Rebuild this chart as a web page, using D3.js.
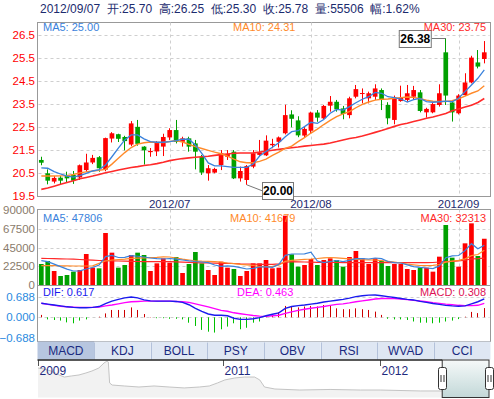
<!DOCTYPE html>
<html><head><meta charset="utf-8">
<script src="https://cdn.jsdelivr.net/npm/d3@7/dist/d3.min.js"></script>
<style>body{margin:0;background:#fff;}svg{display:block;font-family:"Liberation Sans",Arial,sans-serif;}</style>
</head><body><svg id="chart" width="494" height="399"></svg>
<script>
// ---------------- DATA ----------------
const titleText = "2012/09/07\u00a0\u00a0开:25.70\u00a0\u00a0高:26.25\u00a0\u00a0低:25.30\u00a0\u00a0收:25.78\u00a0\u00a0量:55506\u00a0\u00a0幅:1.62%";
const opens = [21.08,20.50,20.14,20.31,20.43,20.43,20.32,20.64,20.97,21.20,
  20.66,22.01,22.20,22.08,21.75,22.52,21.66,21.42,21.45,21.66,
  22.06,22.38,21.87,22.02,21.80,21.22,20.50,20.53,20.86,21.22,
  21.44,20.28,20.21,20.79,21.30,21.28,21.72,21.87,22.24,23.06,
  22.80,22.14,22.35,23.14,22.89,23.44,23.61,23.32,23.03,23.83,
  23.95,23.76,23.83,24.12,23.47,22.82,23.64,23.69,23.83,24.02,
  23.15,23.15,23.47,25.76,23.58,23.11,23.90,24.45,25.32,25.47];
const highs = [21.22,20.67,20.38,20.38,20.57,20.60,20.88,21.35,21.30,21.25,
  22.05,22.29,22.22,22.13,22.77,22.82,21.68,21.60,21.90,22.22,
  22.46,22.82,22.09,22.09,21.95,21.30,20.86,20.74,21.51,21.51,
  21.51,20.79,20.86,21.51,21.95,22.15,22.00,22.10,23.48,23.24,
  22.98,22.53,23.18,23.25,23.47,23.86,23.69,23.43,23.83,24.34,
  24.19,24.05,24.37,24.19,23.59,23.88,24.31,24.34,24.30,24.12,
  23.35,23.59,24.37,26.38,23.62,23.94,24.85,25.61,25.86,26.25];
const lows = [20.85,20.02,20.06,20.02,20.09,20.04,20.21,20.57,20.90,20.57,
  20.59,21.84,21.86,21.50,21.68,21.70,20.88,21.22,21.25,21.25,
  21.95,21.80,21.66,21.44,20.67,20.43,20.18,20.50,20.64,21.08,
  20.25,20.14,20.00,20.72,21.22,21.25,21.59,21.62,22.19,22.50,
  22.07,22.06,22.24,22.74,22.85,23.18,23.18,22.85,22.89,23.76,
  23.54,23.54,23.69,23.25,22.63,22.63,23.61,23.61,23.69,23.15,
  22.92,23.11,23.40,23.47,22.75,23.06,23.86,24.41,25.06,25.28];
const closes = [20.96,20.18,20.30,20.18,20.28,20.18,20.85,20.97,21.17,20.72,
  22.03,22.24,22.00,21.90,22.67,21.78,21.50,21.47,21.82,22.08,
  22.38,21.87,22.02,21.66,21.44,20.53,20.72,20.69,21.37,21.34,
  20.28,20.60,20.82,21.37,21.40,21.92,21.78,22.06,23.03,22.87,
  22.15,22.43,23.14,22.92,23.43,23.61,23.28,23.08,23.76,24.16,
  23.99,23.98,24.19,23.69,22.89,23.79,23.79,23.98,24.12,23.21,
  23.30,23.51,23.98,23.88,23.15,23.88,24.45,25.53,25.14,25.76];
const ma5 = [20.74,20.72,20.57,20.47,20.38,20.33,20.40,20.50,20.60,20.66,
  20.86,21.22,21.59,21.95,22.17,22.17,22.00,21.88,21.85,21.85,
  21.88,21.92,21.98,21.98,21.73,21.37,20.95,20.82,20.82,20.79,
  20.76,20.76,20.76,20.90,21.25,21.45,21.63,21.83,22.09,22.31,
  22.35,22.53,22.72,22.67,22.84,23.11,23.28,23.25,23.40,23.57,
  23.72,23.83,24.02,23.98,23.83,23.79,23.73,23.60,23.70,23.76,
  23.62,23.59,23.61,23.64,23.61,23.76,24.05,24.34,24.63,25.00];
const ma10 = [20.38,20.38,20.38,20.39,20.40,20.45,20.52,20.56,20.60,20.63,
  20.67,20.90,21.15,21.40,21.62,21.77,21.83,21.86,21.84,21.84,
  21.88,21.92,21.86,21.76,21.66,21.58,21.50,21.42,21.35,21.25,
  21.12,21.00,20.96,20.96,21.02,21.12,21.28,21.42,21.58,21.68,
  21.88,22.05,22.25,22.42,22.62,22.80,22.96,23.08,23.18,23.35,
  23.50,23.60,23.68,23.72,23.73,23.76,23.79,23.82,23.80,23.74,
  23.68,23.63,23.62,23.62,23.66,23.74,23.86,23.98,24.08,24.31];
const ma30 = [19.80,19.86,19.94,20.02,20.10,20.18,20.26,20.32,20.38,20.45,
  20.52,20.58,20.64,20.70,20.75,20.79,20.84,20.87,20.92,20.98,
  21.05,21.10,21.14,21.17,21.20,21.22,21.24,21.28,21.31,21.34,
  21.37,21.38,21.38,21.39,21.42,21.46,21.50,21.54,21.58,21.61,
  21.64,21.68,21.71,21.74,21.77,21.82,21.88,21.95,22.01,22.06,
  22.12,22.20,22.28,22.36,22.45,22.54,22.62,22.68,22.75,22.82,
  22.89,22.95,23.02,23.10,23.22,23.30,23.38,23.46,23.58,23.75];
const volumes = [25200,28800,16800,10800,12000,16000,18000,37200,20800,20000,
  62400,38800,20800,24000,36000,38800,36000,16800,26000,32000,
  26800,33600,14400,25200,39600,26000,18000,12000,28000,20800,
  19200,10800,16800,26000,26000,30000,20000,20800,83200,36800,
  22000,24000,31200,24000,30000,32000,30000,22000,33600,40800,
  32000,25200,32000,28800,22800,25200,25200,19200,18000,20800,
  20800,16000,34000,72000,32800,22000,50000,74000,34800,55506];
const volMa5 = [29200,28000,25000,22000,19000,16800,17000,19200,21000,24000,
  34000,35500,33000,33200,35200,34500,33600,32400,31600,31200,
  31800,31000,30000,29000,28200,27600,26800,24000,22400,23000,
  22400,20800,19200,20000,21600,21800,21200,24800,35600,37200,
  37200,37400,39400,28800,26800,28200,29400,28000,29600,31600,
  31800,31200,32400,31600,28200,26800,26400,24200,22000,21200,
  20400,19600,22800,32800,35000,35400,41200,49600,43400,47806];
const volMa10 = [23200,23200,23200,23000,23000,22800,22800,22800,23000,26000,
  28800,30000,30500,31000,32000,32200,32500,32800,33200,33800,
  33600,32400,31000,30000,29000,28600,28400,28000,27400,26400,
  25600,24800,24200,23400,22200,22000,22400,23800,28400,29600,
  30200,30800,31200,31800,32600,33000,32600,32000,31400,30800,
  30400,30200,30000,29200,28400,27600,26400,25000,24200,23400,
  23200,23600,24600,27400,28600,29600,31400,35200,36600,41679];
const volMa30 = [32000,31800,31600,31400,31200,31000,30600,30200,29800,29400,
  29200,29000,28800,28600,28400,28200,28000,28000,28000,28000,
  28000,27800,27500,27200,26800,26600,26400,26200,26000,26000,
  25800,25400,25200,25000,24800,24800,24800,25400,27200,28000,
  27800,27600,27400,27200,27200,27000,27000,26900,26800,26800,
  26800,26800,26800,26800,26800,26800,26800,26800,26800,26800,
  26800,27000,27600,28000,28400,28800,29800,31200,31600,32313];
const dif = [0.47,0.44,0.41,0.38,0.35,0.33,0.32,0.32,0.33,0.36,
  0.46,0.54,0.60,0.65,0.68,0.65,0.58,0.55,0.54,0.54,
  0.54,0.53,0.50,0.42,0.30,0.20,0.11,0.07,0.07,0.05,
  -0.03,-0.07,-0.07,-0.05,-0.01,0.05,0.10,0.15,0.30,0.36,
  0.39,0.41,0.44,0.47,0.51,0.54,0.57,0.60,0.64,0.69,
  0.72,0.74,0.745,0.72,0.69,0.66,0.63,0.60,0.58,0.53,
  0.50,0.46,0.43,0.40,0.38,0.37,0.38,0.45,0.52,0.617];
const dea = [0.47,0.43,0.40,0.37,0.35,0.34,0.33,0.33,0.33,0.34,
  0.38,0.41,0.45,0.49,0.52,0.53,0.54,0.54,0.54,0.54,
  0.54,0.53,0.52,0.50,0.45,0.40,0.35,0.29,0.23,0.20,
  0.15,0.12,0.09,0.06,0.04,0.03,0.05,0.07,0.13,0.18,
  0.23,0.27,0.30,0.33,0.36,0.40,0.43,0.45,0.48,0.52,
  0.55,0.58,0.61,0.63,0.63,0.625,0.61,0.59,0.565,0.545,
  0.52,0.49,0.465,0.44,0.42,0.40,0.39,0.39,0.40,0.463];
const macdHist = [0.08,-0.07,-0.09,-0.11,-0.17,-0.20,-0.11,-0.07,0.0,0.02,
  0.13,0.245,0.245,0.245,0.33,0.245,0.11,0.01,-0.03,-0.03,
  -0.05,-0.05,-0.07,-0.18,-0.29,-0.42,-0.48,-0.51,-0.40,-0.31,
  -0.20,-0.40,-0.35,-0.18,-0.14,0.06,0.10,0.17,0.38,0.36,
  0.33,0.36,0.38,0.36,0.41,0.38,0.30,0.27,0.27,0.30,
  0.27,0.245,0.19,0.08,-0.05,-0.07,-0.07,-0.09,-0.14,-0.18,
  -0.18,-0.20,-0.18,-0.14,-0.11,-0.06,0.02,0.18,0.14,0.308];
const priceTicks = [19.5,20.5,21.5,22.5,23.5,24.5,25.5,26.5];
const volTicks = [0,22500,45000,67500,90000];
const macdTicks = [-0.688,0,0.688];
const monthTickIdx = [20,42,65];
const monthTickLabels = ["2012/07","2012/08","2012/09"];
const tabs = ["MACD","KDJ","BOLL","PSY","OBV","RSI","WVAD","CCI"];
const navDates = ["2009-10-30","2009-11-13","2009-11-29","2009-12-18","2009-12-30","2010-01-15","2010-02-02","2010-02-18","2010-03-04","2010-03-20",
  "2010-04-01","2010-04-08","2010-04-11","2010-04-14","2010-04-20","2010-05-18","2010-06-21","2010-07-26","2010-08-30","2010-10-04",
  "2010-11-08","2010-12-01","2010-12-20","2011-01-06","2011-01-29","2011-02-21","2011-03-16","2011-03-28","2011-04-08","2011-05-02",
  "2011-06-29","2011-09-07","2011-11-16","2012-01-01","2012-02-16","2012-04-03","2012-05-20","2012-06-24","2012-07-29","2012-09-07"];
const navLevel = [43.5,42.4,40.3,36.1,33.9,35.0,36.1,38.2,40.3,43.5,
  48.8,50.9,49.9,27.6,25.4,24.4,23.3,24.4,23.3,22.3,
  23.3,24.4,27.6,30.8,32.9,33.9,33.9,30.8,23.3,21.2,
  20.1,20.7,20.1,20.1,19.6,19.1,19.1,20.1,20.1,22.3];
const navTickDates = ["2009-10-30","2011-01-01","2012-01-01"];
const navTickLabels = ["2009","2011","2012"];
const navWindow = ["2012-06-01","2012-09-07"];

// ---------------- DRAW ----------------
const svg = d3.select("#chart");
const N = closes.length;
const L = 37.5, R = 490.5;
const P = {t:22.5,b:196.5}, V = {t:209.5,b:285.5}, M = {t:285.5,b:341.5}, T = {t:341.5,b:359.5}, NV = {t:360,b:397.5};
const UP = "#ff0000", DOWN = "#00a000";
const C5 = "#3a82dc", C10 = "#ff8a2a", C30 = "#ff2a2a";

const x = d3.scaleBand().domain(d3.range(N)).range([38.1,487.5]).paddingInner(0.27).paddingOuter(0.135);
const cx = i => x(i) + x.bandwidth()/2;
const yP = d3.scaleLinear().domain([19.5,26.5]).range([196.3,35.3]);
const yV = d3.scaleLinear().domain([0,90000]).range([285,210]);
const yM = d3.scaleLinear().domain([-0.688,0.688]).range([337.9,296.7]);
const crisp = v => Math.round(v) + 0.5;

// title
svg.append("text").attr("x",40).attr("y",8.7).attr("dy","0.35em")
  .attr("font-size",12).attr("fill","#1b2b6e").text(titleText);

// frames
[[P.t,P.b],[V.t,V.b],[M.t,M.b]].forEach(([t,b]) => {
  svg.append("rect").attr("x",L).attr("y",t).attr("width",R-L).attr("height",b-t)
    .attr("fill","none").attr("stroke","#999");
});

// grid lines
const grid = svg.append("g").attr("stroke","#cfcfcf").attr("stroke-dasharray","3,3");
priceTicks.filter(t => t > 19.5).forEach(t => grid.append("line").attr("x1",L+1).attr("x2",R-1)
  .attr("y1",crisp(yP(t))).attr("y2",crisp(yP(t))));
volTicks.filter(t => t > 0 && t < 90000).forEach(t => grid.append("line").attr("x1",L+1).attr("x2",R-1)
  .attr("y1",crisp(yV(t))).attr("y2",crisp(yV(t))));
[0.688,0].forEach(t => grid.append("line").attr("x1",L+1).attr("x2",R-1)
  .attr("y1",crisp(yM(t))).attr("y2",crisp(yM(t))));
monthTickIdx.forEach(i => {
  grid.append("line").attr("x1",crisp(cx(i))).attr("x2",crisp(cx(i))).attr("y1",P.t).attr("y2",P.b);
  grid.append("line").attr("x1",crisp(cx(i))).attr("x2",crisp(cx(i))).attr("y1",V.t).attr("y2",V.b);
});

// axes labels
function leftAxis(scale, ticks, fmt, color, size) {
  const g = svg.append("g").attr("transform",`translate(${L},0)`)
    .call(d3.axisLeft(scale).tickValues(ticks).tickFormat(fmt).tickSize(0).tickPadding(2.5));
  g.select(".domain").remove();
  g.selectAll("text").attr("fill",color).attr("font-size",size).attr("font-family",'"Liberation Sans",Arial,sans-serif');
  return g;
}
leftAxis(yP, priceTicks, d3.format(".1f"), "#ff0000", 11.5);
leftAxis(yV, volTicks, d3.format("d"), "#8a7b6b", 11.5);
leftAxis(yM, macdTicks, d3.format(".3f"), "#2a8ae0", 11.5);

// month labels
const mg = svg.append("g").attr("transform",`translate(0,${P.b})`)
  .call(d3.axisBottom(x).tickValues(monthTickIdx).tickFormat(i => monthTickLabels[monthTickIdx.indexOf(i)]).tickSize(0).tickPadding(3));
mg.select(".domain").remove();
mg.selectAll("text").attr("fill","#1e2a6e").attr("font-size",11.5).attr("font-family",'"Liberation Sans",Arial,sans-serif');

// candles
const cg = svg.append("g");
d3.range(N).forEach(i => {
  const up = closes[i] >= opens[i];
  const col = up ? UP : DOWN;
  cg.append("line").attr("x1",crisp(cx(i)-0.5)).attr("x2",crisp(cx(i)-0.5))
    .attr("y1",yP(highs[i])).attr("y2",yP(lows[i])).attr("stroke",col).attr("stroke-width",1);
  const yt = yP(Math.max(opens[i],closes[i])), yb = yP(Math.min(opens[i],closes[i]));
  cg.append("rect").attr("x",x(i)).attr("width",x.bandwidth())
    .attr("y",yt).attr("height",Math.max(1,yb-yt)).attr("fill",col);
});

// MA lines price
const lineP = arr => d3.line().x((d,i)=>cx(i)).y(d=>yP(d))(arr);
svg.append("path").attr("d",lineP(ma30)).attr("fill","none").attr("stroke",C30).attr("stroke-width",1.6);
svg.append("path").attr("d",lineP(ma10)).attr("fill","none").attr("stroke",C10).attr("stroke-width",1.4);
svg.append("path").attr("d",lineP(ma5)).attr("fill","none").attr("stroke",C5).attr("stroke-width",1.3);

// callouts
const iMax = d3.maxIndex(highs), iMin = d3.minIndex(lows);
const hy = yP(highs[iMax]), hx = cx(iMax);
svg.append("line").attr("x1",hx-14).attr("x2",hx).attr("y1",crisp(hy)).attr("y2",crisp(hy)).attr("stroke","#777");
svg.append("rect").attr("x",hx-46.5).attr("y",Math.round(hy)-7.5).attr("width",32).attr("height",17)
  .attr("fill","#fff").attr("stroke","#777");
svg.append("text").attr("x",hx-30.5).attr("y",Math.round(hy)+1).attr("dy","0.35em").attr("text-anchor","middle")
  .attr("font-size",12).attr("font-weight","bold").attr("fill","#000").text(highs[iMax].toFixed(2));
const ly = yP(lows[iMin]), lx = cx(iMin);
svg.append("line").attr("x1",lx).attr("x2",lx+15.5).attr("y1",ly).attr("y2",ly+6).attr("stroke","#777");
svg.append("rect").attr("x",Math.round(lx+15.5)+0.5).attr("y",Math.round(ly)-2.5).attr("width",31).attr("height",17)
  .attr("fill","#fff").attr("stroke","#777");
svg.append("text").attr("x",Math.round(lx+15.5)+16).attr("y",Math.round(ly)+6).attr("dy","0.35em").attr("text-anchor","middle")
  .attr("font-size",12).attr("font-weight","bold").attr("fill","#000").text(lows[iMin].toFixed(2));

// legends
function legend(y, items) {
  items.forEach(([txt,col,xx,anchor]) => svg.append("text").attr("x",xx).attr("y",y).attr("dy","0.35em")
    .attr("text-anchor",anchor).attr("font-size",11).attr("fill",col).text(txt));
}
legend(27, [["MA5: "+ma5[N-1].toFixed(2),C5,43,"start"],["MA10: "+ma10[N-1].toFixed(2),C10,233,"start"],["MA30: "+ma30[N-1].toFixed(2),C30,486,"end"]]);

// volume
const vg = svg.append("g");
d3.range(N).forEach(i => {
  const col = closes[i] >= opens[i] ? UP : DOWN;
  vg.append("rect").attr("x",x(i)).attr("width",x.bandwidth()).attr("y",yV(volumes[i]))
    .attr("height",yV(0)-yV(volumes[i])).attr("fill",col);
});
const lineV = arr => d3.line().x((d,i)=>cx(i)).y(d=>yV(d))(arr);
svg.append("path").attr("d",lineV(volMa30)).attr("fill","none").attr("stroke",C30).attr("stroke-width",1.2);
svg.append("path").attr("d",lineV(volMa10)).attr("fill","none").attr("stroke",C10).attr("stroke-width",1.2);
svg.append("path").attr("d",lineV(volMa5)).attr("fill","none").attr("stroke",C5).attr("stroke-width",1.2);
legend(218, [["MA5: "+volMa5[N-1],C5,43,"start"],["MA10: "+volMa10[N-1],C10,230,"start"],["MA30: "+volMa30[N-1],C30,486,"end"]]);

// MACD
const hg = svg.append("g");
d3.range(N).forEach(i => {
  hg.append("line").attr("x1",crisp(cx(i)-0.5)).attr("x2",crisp(cx(i)-0.5))
    .attr("y1",yM(0)).attr("y2",yM(macdHist[i]))
    .attr("stroke",macdHist[i] >= 0 ? "#cc0000" : "#00c000").attr("stroke-width",1);
});
const lineM = arr => d3.line().x((d,i)=>cx(i)).y(d=>yM(d))(arr);
svg.append("path").attr("d",lineM(dea)).attr("fill","none").attr("stroke","#ff00ff").attr("stroke-width",1.4);
svg.append("path").attr("d",lineM(dif)).attr("fill","none").attr("stroke","#1a1aee").attr("stroke-width",1.4);
legend(292, [["DIF: "+dif[N-1].toFixed(3),"#1a1aee",43,"start"],["DEA: "+dea[N-1].toFixed(3),"#ff00ff",237,"start"],["MACD: "+macdHist[N-1].toFixed(3),"#dd1155",486,"end"]]);

// tabs
const tx = d3.scaleBand().domain(tabs).range([L,R]);
tabs.forEach((t,k) => {
  svg.append("rect").attr("x",tx(t)).attr("y",T.t).attr("width",tx.bandwidth()).attr("height",T.b-T.t)
    .attr("fill",k===0 ? "#b7c6df" : "#dfe7f3");
  if (k>0) svg.append("line").attr("x1",crisp(tx(t))).attr("x2",crisp(tx(t))).attr("y1",T.t+1).attr("y2",T.b)
    .attr("stroke","#b3c1da");
  svg.append("text").attr("x",tx(t)+tx.bandwidth()/2).attr("y",350.7).attr("dy","0.35em").attr("text-anchor","middle")
    .attr("font-size",12).attr("fill","#1a2a80").text(t);
});

// navigator
const parse = d3.timeParse("%Y-%m-%d");
const nx = d3.scaleTime().domain([parse(navDates[0]), parse(navDates[navDates.length-1])]).range([38,488]);
const ny = d3.scaleLinear().domain([18,52]).range([392,360]);
const nd = navDates.map((d,k) => ({d:parse(d), v:navLevel[k]}));
svg.append("path").attr("d",d3.area().x(p=>nx(p.d)).y0(NV.b).y1(p=>ny(p.v))(nd)).attr("fill","#f2f2f2");
svg.append("path").attr("d",d3.line().x(p=>nx(p.d)).y(p=>ny(p.v))(nd)).attr("fill","none").attr("stroke","#c4c4c4").attr("stroke-width",1);
navTickDates.forEach((d,k) => {
  const xx = crisp(nx(parse(d)));
  svg.append("line").attr("x1",xx).attr("x2",xx).attr("y1",NV.t).attr("y2",NV.t+6).attr("stroke","#555");
  svg.append("text").attr("x",xx+1).attr("y",371).attr("dy","0.35em").attr("font-size",12).attr("fill","#1e2a7e").text(navTickLabels[k]);
});
const defs = svg.append("defs");
const gr = defs.append("linearGradient").attr("id","sel").attr("x1",0).attr("y1",0).attr("x2",0).attr("y2",1);
gr.append("stop").attr("offset","0%").attr("stop-color","#f6f9f9");
gr.append("stop").attr("offset","100%").attr("stop-color","#c2d8d8");
const sx0 = nx(parse(navWindow[0])) - 3.5, sx1 = nx(parse(navWindow[1])) + 1;
svg.append("rect").attr("x",sx0).attr("y",NV.t).attr("width",sx1-sx0).attr("height",NV.b-NV.t)
  .attr("fill","url(#sel)").attr("stroke","#333");
svg.append("line").attr("x1",L).attr("x2",sx0).attr("y1",NV.t).attr("y2",NV.t).attr("stroke","#222").attr("stroke-width",1.5);
[sx0, sx1].forEach(hx2 => {
  svg.append("rect").attr("x",Math.round(hx2)-4+0.5).attr("y",367.5).attr("width",8).attr("height",22).attr("rx",2)
    .attr("fill","#fff").attr("stroke","#333");
  [-1.5,1.5].forEach(o => svg.append("line").attr("x1",Math.round(hx2)+o+0.5).attr("x2",Math.round(hx2)+o+0.5)
    .attr("y1",375).attr("y2",382).attr("stroke","#333"));
});
</script></body></html>
